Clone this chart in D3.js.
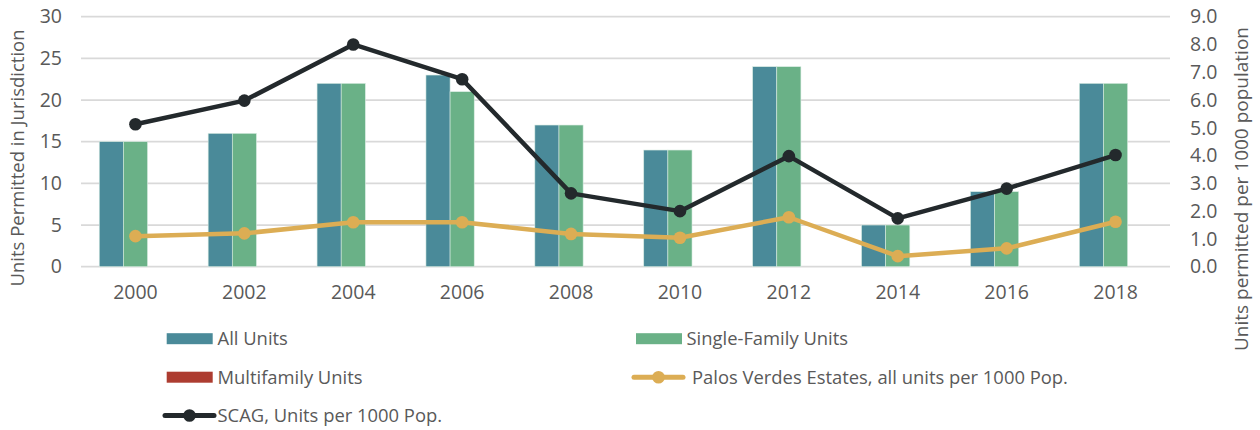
<!DOCTYPE html>
<html><head><meta charset="utf-8">
<script src="https://cdn.jsdelivr.net/npm/d3@7"></script>
<style>
body{margin:0;background:#fff;}
svg{display:block;font-family:"Open Sans", Roboto, sans-serif;}
</style></head>
<body><svg id="c" width="1260" height="430"></svg>
<script>
const years = ["2000","2002","2004","2006","2008","2010","2012","2014","2016","2018"];
const allUnits = [15,16,22,23,17,14,24,5,9,22];
const singleFamily = [15,16,22,21,17,14,24,5,9,22];
const multifamily = [0,0,0,0,0,0,0,0,0,0];
const pveRate = [1.1,1.2,1.6,1.6,1.18,1.04,1.78,0.38,0.66,1.62];
const scagRate = [5.13,5.98,8.0,6.75,2.64,2.0,3.98,1.74,2.81,4.02];
const leftTicks = [0,5,10,15,20,25,30];
const rightTicks = [0,1,2,3,4,5,6,7,8,9];

const C = {all:"#4a8a99", sf:"#6ab187", mf:"#ad3c30", pve:"#dcad54", scag:"#23292c", grid:"#d9d9d9", text:"#595959"};
const FONT = "'Open Sans', Roboto, sans-serif";

const svg = d3.select("#c");
const L=81, R=1170, T=16.7, B=266.7;

const x = d3.scaleBand().domain(years).range([L,R]).padding(0);
const inner = d3.scaleBand().domain(["all","sf","mf"]).range([-36.2,36.2]).padding(0);
const yL = d3.scaleLinear().domain([0,30]).range([B,T]);
const yR = d3.scaleLinear().domain([0,9]).range([B,T]);

// grid
svg.append("g").selectAll("line").data(leftTicks).join("line")
  .attr("x1",L).attr("x2",R).attr("y1",d=>yL(d)).attr("y2",d=>yL(d))
  .attr("stroke",C.grid).attr("stroke-width",1.8);

// left axis
const axL = svg.append("g").attr("transform",`translate(${L},0)`)
  .call(d3.axisLeft(yL).tickValues(leftTicks).tickSize(0).tickPadding(19).tickFormat(d3.format("d")));
axL.select(".domain").remove();
axL.selectAll("text").attr("fill",C.text).attr("font-size",19.5).attr("font-family",FONT);

// right axis
const axR = svg.append("g").attr("transform",`translate(${R},0)`)
  .call(d3.axisRight(yR).tickValues(rightTicks).tickSize(0).tickPadding(20).tickFormat(d3.format(".1f")));
axR.select(".domain").remove();
axR.selectAll("text").attr("fill",C.text).attr("font-size",19.5).attr("font-family",FONT);

// x axis
const axX = svg.append("g").attr("transform",`translate(0,${B})`)
  .call(d3.axisBottom(x).tickSize(0).tickPadding(18));
axX.select(".domain").remove();
axX.selectAll("text").attr("fill",C.text).attr("font-size",19.5).attr("font-family",FONT);

// bars
const barSeries = [["all",allUnits,C.all],["sf",singleFamily,C.sf],["mf",multifamily,C.mf]];
barSeries.forEach(([k,vals,col])=>{
  svg.append("g").selectAll("rect").data(years).join("rect")
    .attr("x",d=>x(d)+x.bandwidth()/2+inner(k))
    .attr("width",inner.bandwidth())
    .attr("y",(d,i)=>yL(vals[i]))
    .attr("height",(d,i)=>yL(0)-yL(vals[i]))
    .attr("fill",col)
    .attr("stroke", vals.some(v=>v>0)?"#d8ebe2":"none").attr("stroke-width",0.6);
});

// lines
function drawLine(vals,col){
  const line = d3.line().x((d,i)=>x(years[i])+x.bandwidth()/2).y(d=>yR(d));
  svg.append("path").datum(vals).attr("d",line).attr("fill","none")
    .attr("stroke",col).attr("stroke-width",4.5).attr("stroke-linejoin","round");
  svg.append("g").selectAll("circle").data(vals).join("circle")
    .attr("cx",(d,i)=>x(years[i])+x.bandwidth()/2).attr("cy",d=>yR(d))
    .attr("r",6.3).attr("fill",col);
}
drawLine(pveRate,C.pve);
drawLine(scagRate,C.scag);

// axis titles
svg.append("text").attr("transform","translate(24,158) rotate(-90)")
  .attr("text-anchor","middle").attr("fill",C.text).attr("font-size",18.5)
  .text("Units Permitted in Jurisdiction");
svg.append("text").attr("transform","translate(1248,189) rotate(-90)")
  .attr("text-anchor","middle").attr("fill",C.text).attr("font-size",19)
  .text("Units permitted per 1000 population");

// legend
const legend = [
  {label:"All Units", type:"bar", col:C.all, x:166.7, y:338.7, tx:217.5},
  {label:"Single-Family Units", type:"bar", col:C.sf, x:636, y:338.7, tx:686.5},
  {label:"Multifamily Units", type:"bar", col:C.mf, x:166.7, y:377.2, tx:217.5},
  {label:"Palos Verdes Estates, all units per 1000 Pop.", type:"line", col:C.pve, x:634, y:377.2, tx:692},
  {label:"SCAG, Units per 1000 Pop.", type:"line", col:C.scag, x:165, y:415.5, tx:217.5}
];
const lg = svg.append("g");
legend.forEach(d=>{
  if(d.type==="bar"){
    lg.append("rect").attr("x",d.x).attr("y",d.y-5.5).attr("width",46).attr("height",11).attr("fill",d.col);
  } else {
    lg.append("line").attr("x1",d.x).attr("x2",d.x+49).attr("y1",d.y).attr("y2",d.y)
      .attr("stroke",d.col).attr("stroke-width",5).attr("stroke-linecap","round");
    lg.append("circle").attr("cx",d.x+24.5).attr("cy",d.y).attr("r",6.3).attr("fill",d.col);
  }
  lg.append("text").attr("x",d.tx).attr("y",d.y).attr("dy","0.35em")
    .attr("fill",C.text).attr("font-size",18.4).text(d.label);
});
</script></body></html>
